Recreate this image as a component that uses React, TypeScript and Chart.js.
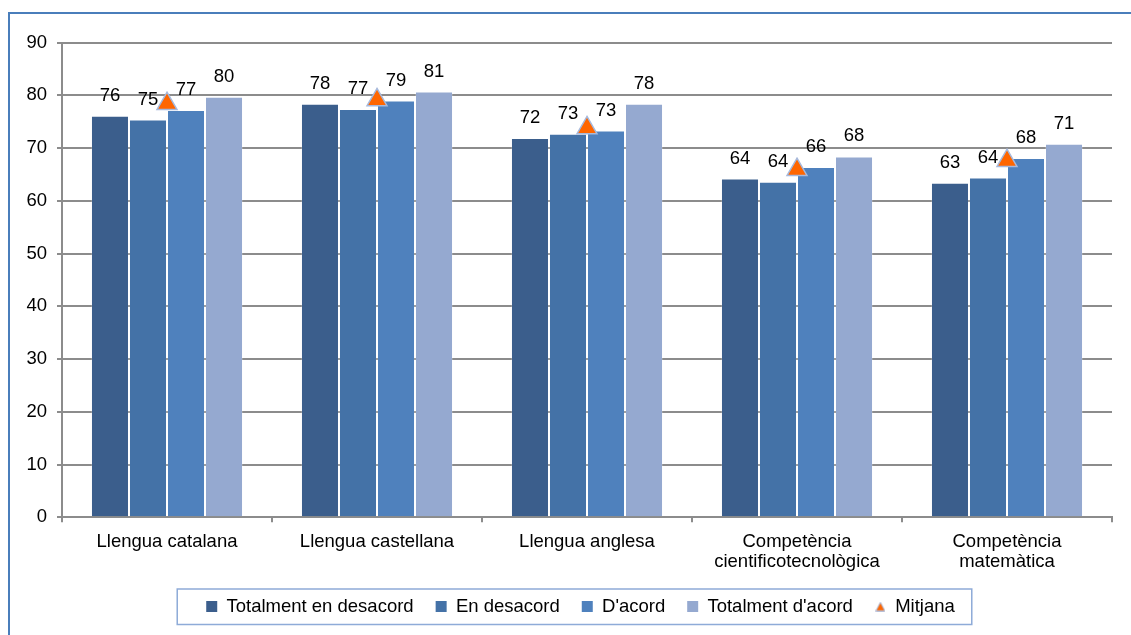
import React, { useEffect, useRef } from "react";
import { Chart, registerables } from "chart.js";

Chart.register(...registerables);

const categories: (string | string[])[] = [
  "Llengua catalana",
  "Llengua castellana",
  "Llengua anglesa",
  ["Competència", "cientificotecnològica"],
  ["Competència", "matemàtica"],
];

const seriesNames = [
  "Totalment en desacord",
  "En desacord",
  "D'acord",
  "Totalment d'acord",
  "Mitjana",
];

const totalmentDesacord = [76.1, 78.4, 71.9, 64.2, 63.4];
const enDesacord = [75.4, 77.4, 72.7, 63.6, 64.4];
const dAcord = [77.2, 79.0, 73.3, 66.4, 68.1];
const totalmentAcord = [79.7, 80.7, 78.4, 68.4, 70.8];
const mitjana = [78.4, 79.1, 73.8, 65.9, 67.6];

const yTicks = { min: 0, max: 90, step: 10 };

const barColors = ["#3B5E8C", "#4472A7", "#4F81BD", "#95A9D0"];
const FONT = '"Liberation Sans", Arial, sans-serif';
const FS = 18.5;
const GRID = "#8C8C8C";

const barLabelsPlugin = {
  id: "barLabels",
  afterDatasetsDraw(chart: any) {
    const ctx = chart.ctx;
    ctx.save();
    ctx.font = `${FS}px ${FONT}`;
    ctx.fillStyle = "#000";
    ctx.textAlign = "center";
    ctx.textBaseline = "alphabetic";
    chart.data.datasets.forEach((ds: any, i: number) => {
      if (ds.type === "line") return;
      const meta = chart.getDatasetMeta(i);
      meta.data.forEach((el: any, j: number) => {
        ctx.fillText(String(Math.round(ds.data[j])), el.x, el.y - 15);
      });
    });
    ctx.restore();
  },
};

const legendShiftPlugin = {
  id: "legendShift",
  afterLayout(chart: any) {
    const lg = chart.legend;
    if (lg) lg.left = 49;
  },
};

const legendBoxPlugin = {
  id: "legendBox",
  afterDraw(chart: any) {
    const lg = chart.legend;
    if (!lg || !lg.legendHitBoxes || !lg.legendHitBoxes.length) return;
    const hb = lg.legendHitBoxes;
    const first = hb[0];
    const last = hb[hb.length - 1];
    const cy = first.top + first.height / 2;
    const ctx = chart.ctx;
    ctx.save();
    ctx.strokeStyle = "#8EABD8";
    ctx.lineWidth = 1.5;
    const x1 = first.left - 29;
    const x2 = last.left + last.width + 17;
    ctx.strokeRect(x1, cy - 17.5, x2 - x1, 35.5);
    ctx.restore();
  },
};

export default function App() {
  const ref = useRef<HTMLCanvasElement | null>(null);

  useEffect(() => {
    if (!ref.current) return;
    const tri = document.createElement("canvas");
    tri.width = 10;
    tri.height = 10;
    const tc = tri.getContext("2d")!;
    tc.beginPath();
    tc.moveTo(5, 0.8);
    tc.lineTo(9.4, 9.3);
    tc.lineTo(0.6, 9.3);
    tc.closePath();
    tc.fillStyle = "#FF6600";
    tc.fill();
    tc.strokeStyle = "#A6B9DC";
    tc.lineWidth = 1;
    tc.stroke();

    const barSeries = [totalmentDesacord, enDesacord, dAcord, totalmentAcord];

    const chart = new Chart(ref.current, {
      type: "bar",
      data: {
        labels: categories as any,
        datasets: [
          ...barSeries.map((d, i) => ({
            type: "bar" as const,
            label: seriesNames[i],
            data: d,
            backgroundColor: barColors[i],
            borderColor: "rgba(255,255,255,0.18)",
            borderWidth: 1,
            barPercentage: 1,
            categoryPercentage: 0.724,
            order: 1,
          })),
          {
            type: "line" as const,
            label: seriesNames[4],
            data: mitjana,
            showLine: false,
            pointStyle: "triangle",
            pointRadius: 11.5,
            pointHoverRadius: 11.5,
            pointBackgroundColor: "#FF6600",
            pointBorderColor: "#A6B9DC",
            pointBorderWidth: 1.5,
            order: 0,
          } as any,
        ],
      },
      options: {
        responsive: false,
        animation: false,
        devicePixelRatio: 1,
        layout: { padding: { left: 0, right: 19, top: 42.5, bottom: 9.25 } },
        plugins: {
          tooltip: { enabled: false },
          legend: {
            position: "bottom",
            labels: {
              usePointStyle: true,
              boxWidth: 11,
              boxHeight: 11,
              padding: 22,
              color: "#000",
              font: { family: FONT, size: FS },
              generateLabels: (c: any) =>
                c.data.datasets.map((ds: any, i: number) => ({
                  text: ds.label,
                  fillStyle: i < 4 ? ds.backgroundColor : "#FF6600",
                  strokeStyle: "transparent",
                  lineWidth: 0,
                  pointStyle: i < 4 ? "rect" : tri,
                  hidden: false,
                  datasetIndex: i,
                })),
            },
          },
        },
        scales: {
          x: {
            afterFit: (s: any) => {
              s.height = 58;
            },
            grid: {
              display: true,
              drawOnChartArea: false,
              drawTicks: true,
              tickLength: 5,
              color: GRID,
              lineWidth: 2,
              offset: true,
            },
            border: { display: true, color: GRID, width: 2 },
            ticks: {
              color: "#000",
              padding: 9,
              maxRotation: 0,
              autoSkip: false,
              font: { family: FONT, size: FS, lineHeight: 1.1 },
            },
          },
          y: {
            min: yTicks.min,
            max: yTicks.max,
            afterFit: (s: any) => {
              s.width = 62;
            },
            grid: {
              color: GRID,
              lineWidth: 2,
              drawTicks: true,
              tickLength: 5,
            },
            border: { display: true, color: GRID, width: 2 },
            ticks: {
              stepSize: yTicks.step,
              color: "#000",
              padding: 10,
              font: { family: FONT, size: FS },
            },
          },
        },
      },
      plugins: [barLabelsPlugin, legendShiftPlugin, legendBoxPlugin],
    });
    return () => chart.destroy();
  }, []);

  return (
    <div
      style={{
        position: "fixed",
        left: 0,
        top: 0,
        width: 1131,
        height: 635,
        overflow: "hidden",
        background: "#fff",
      }}
    >
      <div
        style={{
          position: "absolute",
          left: 8,
          top: 12,
          width: 1200,
          height: 700,
          border: "2px solid #4A7EBB",
          boxSizing: "border-box",
        }}
      />
      <canvas
        ref={ref}
        width={1131}
        height={635}
        style={{ position: "absolute", left: 0, top: 0, width: 1131, height: 635 }}
      />
    </div>
  );
}
